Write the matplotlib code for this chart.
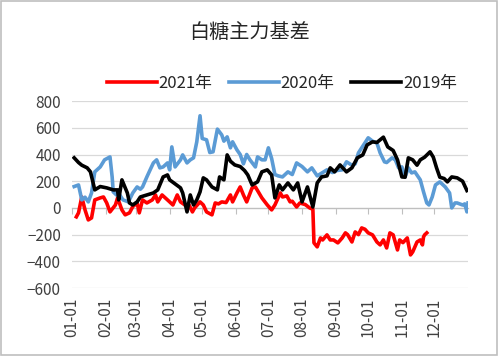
import matplotlib
matplotlib.use("Agg")
import matplotlib.pyplot as plt
from matplotlib.patches import Rectangle

plt.rcParams['font.family'] = ['Noto Sans CJK SC', 'DejaVu Sans']

# day-of-year positions and basis values
days_2021 = [4, 6, 9, 12, 15, 18, 21, 26, 29, 32, 35, 40, 42, 46, 49, 53, 56, 60, 62, 65,
             69, 74, 77, 79, 83, 88, 90, 93, 97, 100, 104, 108, 111, 113, 118, 121, 124, 129,
             132, 135, 138, 142, 146, 148, 152, 155, 158, 161, 166, 169, 171, 175, 180, 184,
             187, 192, 194, 198, 201, 203, 207, 210, 215, 219, 222, 223, 226, 229, 231, 235,
             238, 241, 245, 249, 252, 254, 258, 261, 264, 267, 270, 273, 277, 281, 284, 287,
             290, 293, 296, 300, 302, 305, 309, 312, 314, 318, 321, 323, 324, 325, 327]
vals_2021 = [-67, -37, 82, -15, -90, -75, 60, 75, 82, 37, -30, 22, 75, -15, -52, -37, 10, 37, -37, 60,
             37, 60, 97, 45, 97, 60, 45, 22, 97, 45, 22, 20, -30, 0, 45, 22, -30, -52,
             37, 30, 45, 40, 97, 45, 112, 157, 97, 45, 150, 157, 130, 75, 22, -15,
             22, 112, 82, 90, 45, 50, 7, 37, 25, 0, -10, -262, -292, -225, -240, -202,
             -240, -240, -262, -225, -187, -200, -255, -180, -200, -150, -160, -187, -202, -255, -277, -240,
             -300, -187, -202, -315, -240, -260, -225, -352, -330, -255, -240, -277, -217, -202, -187]

days_2020 = [2, 6, 9, 12, 15, 18, 21, 26, 30, 35, 37, 38, 41, 44, 47, 52, 56, 60, 63, 65,
             69, 72, 75, 78, 81, 84, 88, 90, 92, 95, 100, 102, 106, 109, 112, 115, 118, 120,
             124, 127, 130, 134, 138, 140, 143, 146, 148, 152, 155, 158, 161, 164, 169, 171,
             175, 178, 181, 184, 187, 190, 194, 199, 203, 207, 212, 217, 221, 226, 230, 235,
             240, 244, 249, 253, 258, 261, 264, 267, 270, 273, 277, 281, 284, 288, 290, 295,
             298, 301, 304, 307, 310, 313, 316, 321, 324, 327, 329, 332, 335, 339, 344, 348,
             350, 353, 355, 360, 362, 364, 365]
vals_2020 = [160, 172, 60, 80, 45, 112, 270, 307, 360, 382, 232, 120, 97, 97, 60, 45, 112, 157, 140, 157,
             232, 285, 337, 360, 300, 307, 337, 285, 457, 307, 360, 397, 337, 360, 375, 495, 690, 520,
             510, 415, 420, 590, 547, 500, 532, 450, 495, 435, 400, 330, 400, 360, 307, 382,
             360, 360, 450, 370, 250, 240, 232, 270, 250, 337, 310, 270, 300, 240, 260, 285,
             265, 280, 285, 345, 320, 330, 412, 450, 487, 525, 500, 487, 412, 345, 340, 375,
             360, 300, 307, 232, 300, 262, 270, 210, 120, 37, 22, 82, 172, 195, 157, 112,
             0, 37, 37, 22, 30, -30, 37]

days_2019 = [2, 6, 9, 14, 17, 21, 26, 32, 38, 42, 43, 46, 51, 53, 56, 60, 63, 69, 75, 79,
             84, 88, 90, 95, 100, 102, 106, 109, 112, 115, 118, 121, 124, 129, 134, 136, 140,
             143, 146, 150, 155, 159, 162, 166, 171, 175, 180, 184, 187, 191, 194, 199, 204,
             208, 212, 217, 222, 226, 230, 235, 238, 242, 247, 253, 258, 263, 268, 272, 277,
             281, 287, 291, 296, 300, 304, 307, 310, 314, 318, 321, 325, 330, 333, 336, 339,
             343, 346, 350, 355, 360, 364]
vals_2019 = [375, 340, 320, 300, 270, 135, 160, 150, 135, 135, 60, 210, 112, 37, 22, 45, 82, 97, 112, 135,
             232, 247, 210, 180, 150, 112, -30, 97, 22, 60, 120, 225, 210, 157, 135, 232, 210,
             397, 350, 322, 310, 280, 247, 172, 195, 270, 285, 247, 75, 172, 135, 187, 135,
             187, 45, 157, 7, 187, 232, 240, 300, 270, 322, 270, 300, 375, 397, 472, 495,
             490, 530, 457, 430, 360, 232, 230, 375, 360, 320, 360, 380, 420, 380, 300, 230,
             220, 195, 232, 225, 200, 130]

month_starts = [0, 31, 59, 90, 120, 151, 181, 212, 243, 273, 304, 334]
month_labels = ['01-01', '02-01', '03-01', '04-01', '05-01', '06-01',
                '07-01', '08-01', '09-01', '10-01', '11-01', '12-01']
y_ticks = [-600, -400, -200, 0, 200, 400, 600, 800]

fig = plt.figure(figsize=(4.98, 3.56), dpi=100)
ax = fig.add_axes([0.1446, 0.191, 0.7952, 0.525])

ax.plot(days_2021, vals_2021, color='#FF0000', linewidth=2.6, label='2021年', zorder=3)
ax.plot(days_2020, vals_2020, color='#5B9BD5', linewidth=2.6, label='2020年', zorder=4)
ax.plot(days_2019, vals_2019, color='#000000', linewidth=2.6, label='2019年', zorder=5)

ax.set_xlim(0, 365)
ax.set_ylim(-600, 800)
ax.set_yticks(y_ticks)
ax.yaxis.grid(True, color='#d9d9d9', linewidth=0.9)
ax.set_axisbelow(True)
for s in ['top', 'right', 'left']:
    ax.spines[s].set_visible(False)
ax.tick_params(axis='y', length=0, labelsize=11, labelcolor='#404040', pad=8)

# category axis crosses at zero, labels sit below the plot
ax.spines['bottom'].set_position(('data', 0))
ax.spines['bottom'].set_color('#bfbfbf')
ax.spines['bottom'].set_linewidth(0.9)
ax.set_xticks(month_starts)
ax.tick_params(axis='x', direction='out', length=4, color='#bfbfbf', labelbottom=False)

sec = ax.secondary_xaxis(0)
sec.set_xticks(month_starts)
sec.set_xticklabels(month_labels, rotation=90, fontsize=11, color='#404040')
sec.tick_params(length=0, pad=7)
sec.spines['bottom'].set_visible(False)

fig.text(0.5, 0.91, '白糖主力基差', ha='center', va='center', fontsize=14.5, color='#262626')
ax.legend(loc='center', bbox_to_anchor=(0.566, 0.766), bbox_transform=fig.transFigure,
          ncol=3, frameon=False, fontsize=12, handlelength=3.0, handletextpad=0.1,
          columnspacing=1.0, labelcolor='#262626')

fig.patches.append(Rectangle((0.002, 0.003), 0.996, 0.994, transform=fig.transFigure,
                             fill=False, edgecolor='#bfbfbf', linewidth=1.2))

fig.savefig('out.png', dpi=100)
